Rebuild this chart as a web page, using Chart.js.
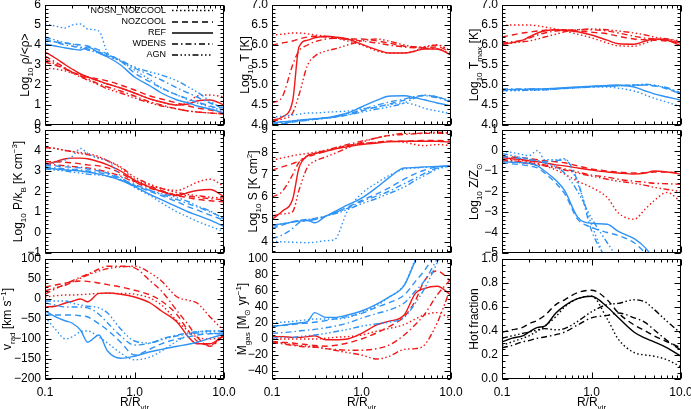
<!DOCTYPE html>
<html>
<head>
<meta charset="utf-8">
<script src="https://cdn.jsdelivr.net/npm/chart.js@4.4.1/dist/chart.umd.min.js"></script>
<style>
  body { margin: 0; background: #fff; }
  #page { position: relative; width: 691px; height: 409px; }
  #page canvas { position: absolute; left: 0; top: 0; }
</style>
</head>
<body>
<div id="page"></div>
<script>
const radius = [0.1, 0.13, 0.17, 0.2, 0.25, 0.3, 0.4, 0.5, 0.7, 1, 1.5, 2, 3, 4, 5, 7, 10];
const models = ['NOSN_NOZCOOL', 'NOZCOOL', 'REF', 'WDENS', 'AGN'];
const dashes = [[1.5, 2.5], [6, 4], [], [6, 3, 1.5, 3], [6, 2.5, 1.5, 2.5, 1.5, 2.5, 1.5, 2.5]];

// rows in model order: NOSN_NOZCOOL, NOZCOOL, REF, WDENS, AGN
const densityRed = [
  [2.85, 2.8, 2.7, 2.6, 2.5, 2.4, 2.2, 2.05, 1.85, 1.6, 1.3, 1.15, 1.0, 1.15, 1.45, 1.5, 1.4],
  [3.15, 3.0, 2.8, 2.65, 2.5, 2.4, 2.3, 2.2, 2.0, 1.75, 1.45, 1.3, 1.1, 0.95, 0.85, 0.75, 0.6],
  [3.65, 3.35, 3.0, 2.8, 2.55, 2.4, 2.2, 2.05, 1.85, 1.6, 1.3, 1.15, 1.0, 1.05, 1.2, 1.25, 1.0],
  [3.45, 3.15, 2.85, 2.65, 2.45, 2.3, 2.05, 1.9, 1.7, 1.45, 1.15, 1.0, 0.8, 0.7, 0.65, 0.6, 0.55],
  [3.3, 3.05, 2.8, 2.6, 2.4, 2.25, 2.0, 1.8, 1.6, 1.35, 1.1, 0.95, 0.8, 0.7, 0.65, 0.6, 0.55]
];
const densityBlue = [
  [5.05, 4.95, 4.85, 5.0, 5.05, 4.8, 4.7, 3.6, 3.2, 2.75, 2.25, 1.85, 1.5, 1.25, 1.1, 0.9, 0.7],
  [4.2, 4.15, 4.1, 4.05, 4.0, 3.95, 3.75, 3.55, 3.2, 2.6, 2.15, 1.85, 1.5, 1.3, 1.15, 0.95, 0.75],
  [4.05, 3.95, 3.85, 3.8, 3.75, 3.9, 3.6, 3.4, 3.0, 2.4, 1.95, 1.6, 1.25, 1.1, 0.95, 0.8, 0.6],
  [4.3, 4.15, 4.0, 3.95, 3.85, 3.8, 3.65, 3.5, 3.25, 2.85, 2.5, 2.25, 1.85, 1.6, 1.4, 1.1, 0.85],
  [4.4, 4.25, 4.1, 4.05, 3.9, 3.75, 3.6, 3.45, 3.2, 2.9, 2.65, 2.5, 2.2, 1.9, 1.65, 1.2, 0.75]
];
const tempRed = [
  [6.25, 6.27, 6.3, 6.3, 6.28, 6.25, 6.22, 6.18, 6.1, 6.0, 5.85, 5.8, 5.8, 5.85, 5.95, 6.0, 5.85],
  [6.0, 6.05, 6.1, 6.15, 6.2, 6.22, 6.2, 6.17, 6.15, 6.15, 6.1, 6.05, 5.97, 5.95, 5.93, 5.95, 5.82],
  [4.12, 4.2, 4.6, 5.95, 6.12, 6.18, 6.22, 6.2, 6.15, 6.02, 5.88, 5.8, 5.8, 5.85, 5.9, 5.9, 5.75],
  [4.55, 4.7, 5.5, 5.85, 6.0, 6.08, 6.15, 6.17, 6.15, 6.1, 6.05, 6.0, 5.95, 5.93, 5.92, 5.9, 5.8],
  [4.1, 4.15, 4.3, 4.75, 5.5, 5.72, 5.85, 5.9, 6.0, 6.1, 6.15, 6.1, 6.0, 5.95, 5.95, 6.0, 5.85]
];
const tempBlue = [
  [4.2, 4.22, 4.25, 4.27, 4.3, 4.3, 4.32, 4.33, 4.35, 4.4, 4.45, 4.5, 4.55, 4.5, 4.42, 4.35, 4.28],
  [4.0, 4.03, 4.07, 4.1, 4.12, 4.15, 4.18, 4.2, 4.25, 4.35, 4.45, 4.52, 4.62, 4.7, 4.74, 4.7, 4.6],
  [4.05, 4.08, 4.1, 4.12, 4.14, 4.15, 4.18, 4.22, 4.3, 4.45, 4.62, 4.72, 4.73, 4.68, 4.63, 4.55, 4.48],
  [4.02, 4.05, 4.08, 4.1, 4.12, 4.14, 4.17, 4.2, 4.27, 4.38, 4.5, 4.57, 4.65, 4.72, 4.73, 4.68, 4.58],
  [4.05, 4.07, 4.1, 4.12, 4.14, 4.15, 4.17, 4.2, 4.25, 4.32, 4.4, 4.45, 4.55, 4.68, 4.75, 4.7, 4.6]
];
const tmaxRed = [
  [6.48, 6.5, 6.5, 6.5, 6.48, 6.45, 6.4, 6.35, 6.27, 6.18, 6.05, 5.98, 5.97, 6.05, 6.12, 6.15, 6.05],
  [6.2, 6.25, 6.3, 6.32, 6.35, 6.37, 6.38, 6.38, 6.35, 6.32, 6.28, 6.22, 6.15, 6.13, 6.12, 6.1, 6.05],
  [6.02, 6.06, 6.12, 6.2, 6.3, 6.35, 6.38, 6.37, 6.33, 6.25, 6.12, 6.03, 6.02, 6.1, 6.15, 6.12, 5.98],
  [6.05, 6.08, 6.12, 6.17, 6.25, 6.3, 6.35, 6.37, 6.38, 6.38, 6.35, 6.3, 6.22, 6.17, 6.15, 6.12, 6.05],
  [6.02, 6.05, 6.08, 6.1, 6.15, 6.2, 6.27, 6.33, 6.38, 6.4, 6.38, 6.35, 6.3, 6.25, 6.2, 6.15, 6.1]
];
const tmaxBlue = [
  [4.85, 4.86, 4.86, 4.87, 4.87, 4.88, 4.9, 4.92, 4.93, 4.95, 4.95, 4.92, 4.85, 4.75, 4.67, 4.57, 4.45],
  [4.87, 4.88, 4.88, 4.88, 4.88, 4.89, 4.9, 4.92, 4.94, 4.96, 4.98, 4.98, 5.0, 5.0, 4.98, 4.9, 4.77],
  [4.88, 4.89, 4.89, 4.9, 4.9, 4.9, 4.92, 4.93, 4.95, 4.97, 4.99, 5.0, 4.95, 4.85, 4.78, 4.7, 4.62],
  [4.9, 4.9, 4.9, 4.9, 4.9, 4.9, 4.91, 4.92, 4.94, 4.96, 4.97, 4.98, 4.99, 5.0, 4.98, 4.93, 4.8],
  [4.86, 4.86, 4.87, 4.87, 4.88, 4.88, 4.9, 4.91, 4.93, 4.95, 4.97, 4.98, 5.0, 5.02, 5.0, 4.92, 4.78]
];
const pressRed = [
  [4.15, 4.1, 4.0, 3.95, 3.9, 3.85, 3.7, 3.5, 3.15, 2.6, 2.3, 2.15, 2.05, 2.25, 2.45, 2.6, 2.25],
  [3.45, 3.45, 3.42, 3.4, 3.35, 3.3, 3.25, 3.15, 2.9, 2.5, 2.25, 2.05, 1.8, 1.7, 1.62, 1.55, 1.5],
  [3.3, 3.45, 3.6, 3.63, 3.63, 3.6, 3.45, 3.3, 3.0, 2.55, 2.2, 2.0, 1.8, 1.95, 2.05, 2.1, 1.75],
  [3.35, 3.3, 3.25, 3.22, 3.18, 3.15, 3.05, 2.95, 2.75, 2.45, 2.15, 2.0, 1.85, 1.78, 1.72, 1.65, 1.6],
  [4.15, 4.1, 4.0, 3.95, 3.85, 3.8, 3.65, 3.5, 3.2, 2.7, 2.35, 2.15, 1.95, 1.85, 1.8, 1.72, 1.68]
];
const pressBlue = [
  [3.3, 3.4, 3.55, 3.7, 4.1, 3.85, 3.6, 3.5, 2.75, 2.2, 1.8, 1.45, 1.0, 0.75, 0.55, 0.3, 0.05],
  [3.3, 3.25, 3.2, 3.18, 3.15, 3.1, 3.0, 2.9, 2.65, 2.3, 2.0, 1.8, 1.5, 1.25, 1.1, 0.85, 0.6],
  [3.15, 3.1, 3.05, 3.03, 3.0, 2.95, 2.85, 2.75, 2.55, 2.25, 1.85, 1.6, 1.25, 1.0, 0.85, 0.6, 0.3],
  [3.2, 3.15, 3.1, 3.08, 3.05, 3.0, 2.92, 2.85, 2.6, 2.35, 2.05, 1.85, 1.6, 1.4, 1.25, 1.0, 0.7],
  [3.1, 3.05, 3.0, 2.95, 2.9, 2.85, 2.8, 2.75, 2.55, 2.3, 2.05, 1.9, 1.7, 1.5, 1.3, 1.05, 0.65]
];
const entropyRed = [
  [7.65, 7.75, 7.85, 7.9, 7.95, 8.0, 8.1, 8.2, 8.3, 8.4, 8.45, 8.5, 8.45, 8.35, 8.3, 8.35, 8.3],
  [7.2, 7.35, 7.5, 7.6, 7.8, 7.9, 8.05, 8.15, 8.3, 8.4, 8.45, 8.5, 8.5, 8.52, 8.53, 8.53, 8.5],
  [5.0, 5.37, 5.9, 7.3, 7.85, 7.95, 8.05, 8.15, 8.25, 8.35, 8.42, 8.47, 8.5, 8.5, 8.5, 8.5, 8.45],
  [6.0, 6.25, 7.0, 7.55, 7.85, 7.95, 8.1, 8.2, 8.35, 8.5, 8.65, 8.75, 8.8, 8.83, 8.85, 8.85, 8.85],
  [5.15, 5.25, 5.35, 6.3, 7.35, 7.6, 7.8, 7.95, 8.2, 8.45, 8.65, 8.75, 8.85, 8.85, 8.87, 8.9, 8.85]
];
const entropyBlue = [
  [4.02, 4.0, 3.98, 3.97, 3.96, 3.98, 4.05, 4.1, 5.4, 6.15, 6.65, 6.95, 7.25, 7.3, 7.33, 7.35, 7.4],
  [4.6, 4.75, 4.9, 4.95, 5.0, 5.0, 5.15, 5.3, 5.55, 5.85, 6.15, 6.4, 6.8, 7.05, 7.2, 7.35, 7.4],
  [4.75, 4.8, 4.88, 4.92, 4.95, 4.85, 5.15, 5.35, 5.65, 5.95, 6.45, 6.85, 7.3, 7.32, 7.35, 7.37, 7.4],
  [4.15, 4.3, 4.6, 4.85, 4.95, 5.0, 5.15, 5.3, 5.5, 5.8, 6.05, 6.25, 6.6, 6.85, 7.05, 7.3, 7.4],
  [4.7, 4.8, 4.9, 4.95, 5.0, 5.05, 5.15, 5.25, 5.45, 5.7, 5.95, 6.15, 6.45, 6.75, 6.95, 7.25, 7.4]
];
const metalRed = [
  [-0.4, -0.45, -0.5, -0.55, -0.65, -0.75, -0.95, -1.15, -1.5, -1.8, -2.3, -3.05, -3.35, -2.85, -2.45, -2.05, -2.5],
  [-0.3, -0.32, -0.35, -0.4, -0.45, -0.5, -0.55, -0.6, -0.75, -0.9, -1.0, -1.05, -1.1, -1.08, -1.05, -1.05, -1.1],
  [-0.35, -0.4, -0.45, -0.5, -0.55, -0.6, -0.7, -0.75, -0.85, -0.95, -1.05, -1.1, -1.15, -1.1, -1.0, -1.05, -1.15],
  [-0.45, -0.5, -0.55, -0.6, -0.65, -0.7, -0.8, -0.9, -1.05, -1.2, -1.3, -1.4, -1.5, -1.55, -1.6, -1.62, -1.65],
  [-0.5, -0.55, -0.6, -0.65, -0.7, -0.75, -0.85, -0.95, -1.1, -1.25, -1.4, -1.5, -1.6, -1.7, -1.8, -1.9, -2.0]
];
const metalBlue = [
  [-0.05, -0.1, -0.2, -0.25, 0.0, -0.45, -0.45, -0.4, -1.6, -3.6, -5.6, null, null, null, null, null, null],
  [-0.6, -0.65, -0.7, -0.75, -0.85, -1.1, -1.6, -2.1, -3.35, -3.75, -4.0, -4.15, -4.5, -5.0, -5.4, null, null],
  [-0.55, -0.57, -0.6, -0.62, -0.75, -1.0, -1.45, -1.95, -3.25, -3.55, -3.6, -3.95, -4.3, -4.75, -5.3, null, null],
  [-0.3, -0.35, -0.4, -0.45, -0.5, -0.55, -0.5, -0.45, -1.5, -3.9, -5.4, null, null, null, null, null, null],
  [-0.15, -0.25, -0.35, -0.4, -0.5, -0.6, -0.8, -1.1, -2.0, -3.3, -4.5, -5.3, null, null, null, null, null]
];
const vradRed = [
  [5, 8, 10, 10, 11, 12, 14, 14, 14, 12, 2, -15, -55, -80, -95, -100, -95],
  [30, 35, 40, 43, 45, 44, 40, 36, 30, 22, 10, -5, -40, -80, -105, -115, -90],
  [-20, -18, -10, -6, 0, -7, 14, 15, 12, 5, -10, -30, -58, -95, -112, -112, -90],
  [12, 25, 38, 45, 55, 62, 75, 82, 82, 78, 45, 20, -30, -65, -95, -118, -90],
  [20, 28, 35, 42, 52, 60, 70, 76, 80, 82, 65, 45, 5, -3, -10, -45, -80]
];
const vradBlue = [
  [-45, -75, -100, -95, -82, -80, -95, -110, -135, -152, -145, -130, -105, -90, -82, -80, -80],
  [-40, -40, -40, -40, -42, -45, -62, -78, -108, -140, -125, -112, -100, -95, -90, -87, -85],
  [-30, -44, -55, -60, -78, -108, -90, -130, -148, -143, -132, -126, -118, -113, -108, -98, -88],
  [-10, -15, -20, -20, -20, -22, -38, -60, -92, -115, -110, -100, -90, -85, -82, -80, -80],
  [-5, -5, -5, -10, -15, -18, -22, -35, -75, -105, -110, -102, -92, -88, -85, -85, -90]
];
const mdotRed = [
  [0, 0, 0, 0, 0, 0, 1, 2, 3, 5, 10, 13, 18, 25, 30, 33, 25],
  [-3, -4, -5, -6, -7, -8, -9, -8, -5, 0, 8, 15, 28, 48, 72, 85, 72],
  [3, 3, 2, 2, 3, 4, -1, -1, 0, 7, 18, 22, 30, 57, 63, 66, 55],
  [-5, -6, -8, -9, -10, -10, -12, -13, -14, -14, -12, -8, 5, 18, 30, 55, 75],
  [-4, -5, -7, -8, -9, -10, -12, -14, -17, -20, -25, -22, -13, -12, -8, 20, 65]
];
const mdotBlue = [
  [20, 21, 22, 23, 24, 25, 25, 25, 27, 33, 42, 52, 68, 100, 125, null, null],
  [16, 17, 18, 19, 20, 21, 23, 25, 28, 32, 40, 45, 55, 72, 85, 110, null],
  [16, 17, 19, 20, 22, 33, 27, 27, 30, 35, 44, 52, 67, 98, 120, null, null],
  [7, 8, 9, 10, 11, 12, 14, 16, 20, 26, 32, 36, 45, 60, 72, 100, null],
  [1, 2, 2, 3, 4, 5, 7, 9, 12, 16, 19, 21, 27, 45, 62, 95, 130]
];
const hotFraction = [
  [0.28, 0.31, 0.34, 0.36, 0.40, 0.44, 0.52, 0.60, 0.67, 0.69, 0.50, 0.33, 0.22, 0.20, 0.19, 0.16, 0.10],
  [0.39, 0.41, 0.43, 0.46, 0.49, 0.53, 0.62, 0.66, 0.72, 0.74, 0.66, 0.55, 0.45, 0.40, 0.36, 0.31, 0.26],
  [0.31, 0.34, 0.36, 0.39, 0.43, 0.44, 0.55, 0.61, 0.67, 0.69, 0.60, 0.51, 0.39, 0.34, 0.31, 0.26, 0.19],
  [0.26, 0.28, 0.31, 0.32, 0.34, 0.35, 0.37, 0.39, 0.45, 0.51, 0.53, 0.55, 0.51, 0.47, 0.41, 0.32, 0.24],
  [0.34, 0.36, 0.38, 0.39, 0.41, 0.42, 0.41, 0.42, 0.48, 0.56, 0.62, 0.63, 0.66, 0.64, 0.58, 0.48, 0.38]
];

const RED = '#f01818', BLUE = '#2f93f5', BLACK = '#000';
const FONT = "'Liberation Sans', Arial, sans-serif";
const colL = [45, 272, 502], colR = [224, 451, 681];
const rowT = [5, 130, 259], rowB = [125, 253, 379];

function range(a, b, s) { const out = []; for (let v = a; v <= b + 1e-9; v += s) out.push(+v.toFixed(6)); return out; }

const panels = [
  { sets: [[densityBlue, BLUE], [densityRed, RED]], min: 0, max: 6, ticks: range(0, 6, 1), minor: 0.2, dec: 0, title: 'Log_{10} ρ/<ρ>', tx: 25, legend: true },
  { sets: [[tempBlue, BLUE], [tempRed, RED]], min: 4, max: 7, ticks: range(4, 7, 0.5), minor: 0.1, dec: 1, title: 'Log_{10} T [K]', tx: 245 },
  { sets: [[tmaxBlue, BLUE], [tmaxRed, RED]], min: 4, max: 7, ticks: range(4, 7, 0.5), minor: 0.1, dec: 1, title: 'Log_{10} T_{max} [K]', tx: 474 },
  { sets: [[pressBlue, BLUE], [pressRed, RED]], min: -1, max: 5, ticks: range(-1, 5, 1), minor: 0.2, dec: 0, title: 'Log_{10} P/k_{B} [K cm^{−3}]', tx: 18 },
  { sets: [[entropyBlue, BLUE], [entropyRed, RED]], min: 3.5, max: 9, ticks: range(4, 9, 1), minor: 0.2, dec: 0, title: 'Log_{10} S [K cm^{2}]', tx: 253 },
  { sets: [[metalBlue, BLUE], [metalRed, RED]], min: -5, max: 1, ticks: range(-5, 1, 1), minor: 0.2, dec: 0, title: 'Log_{10} Z/Z_{⊙}', tx: 474 },
  { sets: [[vradBlue, BLUE], [vradRed, RED]], min: -200, max: 100, ticks: range(-200, 100, 50), minor: 10, dec: 0, title: 'v_{rad} [km s^{−1}]', tx: 7 },
  { sets: [[mdotBlue, BLUE], [mdotRed, RED]], min: -50, max: 100, ticks: range(-40, 100, 20), minor: 5, dec: 0, title: 'Ṁ_{gas} [M_{⊙} yr^{−1}]', tx: 242 },
  { sets: [[hotFraction, BLACK]], min: 0, max: 1, ticks: range(0, 1, 0.2), minor: 0.05, dec: 1, title: 'Hot fraction', tx: 474 }
];

// text with _{sub} and ^{sup} pieces
function drawRich(ctx, str, x, y, size, vertical) {
  const parts = [];
  const re = /([_^])\{([^}]*)\}|([^_^]+)/g;
  let m;
  while ((m = re.exec(str))) {
    if (m[3]) parts.push({ t: m[3], s: 0 });
    else parts.push({ t: m[2], s: m[1] === '_' ? 1 : -1 });
  }
  const small = Math.round(size * 0.68);
  let w = 0;
  parts.forEach(p => {
    ctx.font = (p.s ? small : size) + 'px ' + FONT;
    p.w = ctx.measureText(p.t).width;
    w += p.w;
  });
  ctx.save();
  ctx.translate(x, y);
  if (vertical) ctx.rotate(-Math.PI / 2);
  ctx.textAlign = 'left';
  ctx.textBaseline = 'alphabetic';
  ctx.fillStyle = '#000';
  let cx = -w / 2;
  const base = size * 0.36;
  parts.forEach(p => {
    ctx.font = (p.s ? small : size) + 'px ' + FONT;
    const dy = p.s === 1 ? size * 0.28 : p.s === -1 ? -size * 0.42 : 0;
    ctx.fillText(p.t, cx, base + dy);
    cx += p.w;
  });
  ctx.restore();
}

function drawLegend(ctx) {
  const ys = [10.5, 22, 33, 44, 55];
  ctx.save();
  ctx.font = '9px ' + FONT;
  ctx.textAlign = 'right';
  ctx.textBaseline = 'middle';
  ctx.fillStyle = '#000';
  ctx.strokeStyle = '#000';
  ctx.lineWidth = 1.4;
  models.forEach((name, i) => {
    ctx.fillText(name, 166, ys[i]);
    ctx.setLineDash(dashes[i]);
    ctx.beginPath();
    ctx.moveTo(172, ys[i]);
    ctx.lineTo(213, ys[i]);
    ctx.stroke();
  });
  ctx.restore();
}

function fmt(v, dec) {
  const s = Math.abs(v).toFixed(dec);
  return v < -1e-9 ? '\u2212' + s : s;
}

const page = document.getElementById('page');

panels.forEach((p, idx) => {
  const col = idx % 3, row = Math.floor(idx / 3);
  const bottom = row === 2;
  const xH = bottom ? 24 : 0, yW = 40;
  const canvas = document.createElement('canvas');
  canvas.width = 691;
  canvas.height = 409;
  page.appendChild(canvas);

  const datasets = [];
  p.sets.forEach(([rows, color]) => {
    rows.forEach((vals, i) => {
      datasets.push({
        label: models[i],
        data: radius.map((r, j) => ({ x: r, y: vals[j] })),
        borderColor: color,
        borderWidth: 1.4,
        borderDash: dashes[i],
        pointRadius: 0,
        fill: false,
        spanGaps: false,
        cubicInterpolationMode: 'monotone'
      });
    });
  });

  // box with inward IDL-style ticks, axis titles, legend
  const frame = {
    id: 'frame' + idx,
    afterDatasetsDraw(chart) {
      const { ctx, chartArea: a, scales: { x, y } } = chart;
      const L = Math.round(a.left) + 0.5, R = Math.round(a.right) - 0.5;
      const T = Math.round(a.top) + 0.5, B = Math.round(a.bottom) - 0.5;
      ctx.save();
      ctx.strokeStyle = '#000';
      ctx.lineWidth = 1;
      ctx.setLineDash([]);
      ctx.strokeRect(L, T, R - L, B - T);
      ctx.beginPath();
      const xt = [];
      [0.1, 1, 10].forEach(v => xt.push([v, 6]));
      [0.1, 1].forEach(d => { for (let k = 2; k <= 9; k++) xt.push([d * k, 3]); });
      xt.forEach(([v, len]) => {
        const px = Math.round(x.getPixelForValue(v)) + 0.5;
        ctx.moveTo(px, B); ctx.lineTo(px, B - len);
        ctx.moveTo(px, T); ctx.lineTo(px, T + len);
      });
      const yt = p.ticks.map(v => [v, 6]);
      range(Math.ceil(p.min / p.minor) * p.minor, p.max, p.minor).forEach(v => yt.push([v, 3]));
      yt.forEach(([v, len]) => {
        const py = Math.round(y.getPixelForValue(v)) + 0.5;
        ctx.moveTo(L, py); ctx.lineTo(L + len, py);
        ctx.moveTo(R, py); ctx.lineTo(R - len, py);
      });
      ctx.stroke();
      drawRich(ctx, p.title, p.tx, (a.top + a.bottom) / 2, 12, true);
      if (bottom) drawRich(ctx, 'R/R_{vir}', (a.left + a.right) / 2, 402, 12, false);
      if (p.legend) drawLegend(ctx);
      ctx.restore();
    }
  };

  new Chart(canvas, {
    type: 'line',
    data: { datasets },
    options: {
      responsive: false,
      animation: false,
      events: [],
      layout: {
        padding: { left: colL[col] - yW, right: 691 - colR[col], top: rowT[row], bottom: 409 - rowB[row] - xH }
      },
      plugins: { legend: { display: false }, tooltip: { enabled: false } },
      scales: {
        x: {
          type: 'logarithmic',
          min: 0.1,
          max: 10,
          grid: { display: false, drawTicks: false },
          border: { display: false },
          ticks: {
            display: bottom,
            autoSkip: false,
            maxRotation: 0,
            padding: 6,
            color: '#000',
            font: { family: FONT, size: 12 },
            callback: v => Number(v).toFixed(1)
          },
          afterBuildTicks: s => { s.ticks = [0.1, 1, 10].map(v => ({ value: v })); },
          afterFit: s => { s.height = xH; s.paddingLeft = 0; s.paddingRight = 0; }
        },
        y: {
          min: p.min,
          max: p.max,
          grid: { display: false, drawTicks: false },
          border: { display: false },
          ticks: {
            autoSkip: false,
            padding: 4,
            color: '#000',
            font: { family: FONT, size: 12 },
            callback: v => fmt(v, p.dec)
          },
          afterBuildTicks: s => { s.ticks = p.ticks.map(v => ({ value: v })); },
          afterFit: s => { s.width = yW; s.paddingTop = 0; s.paddingBottom = 0; }
        }
      }
    },
    plugins: [frame]
  });
});
</script>
</body>
</html>
